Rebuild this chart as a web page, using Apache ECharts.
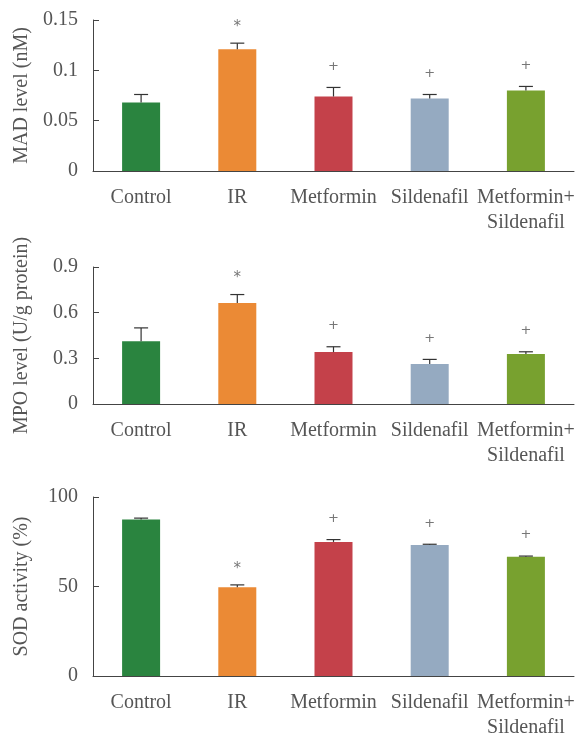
<!DOCTYPE html>
<html>
<head>
<meta charset="utf-8">
<script src="https://cdn.jsdelivr.net/npm/echarts@6/dist/echarts.min.js"></script>
<style>
  html, body { margin: 0; padding: 0; background: #fff; }
  #chart { width: 585px; height: 740px; }
</style>
</head>
<body>
<div id="chart"></div>
<script>
// Groups shown on every panel
const categories = ['Control', 'IR', 'Metformin', 'Sildenafil', 'Metformin+\nSildenafil'];
const groupColors = ['#2a843f', '#eb8a35', '#c4414a', '#95aac1', '#78a12f'];
// Significance marks above each group (* vs control, + vs IR)
const sigMarks = ['', '*', '+', '+', '+'];

// MAD level (nM): mean and SEM
const madMean = [0.068, 0.121, 0.074, 0.072, 0.080];
const madErr = [0.008, 0.006, 0.009, 0.004, 0.004];

// MPO level (U/g protein): mean and SEM
const mpoMean = [0.413, 0.664, 0.341, 0.262, 0.328];
const mpoErr = [0.087, 0.055, 0.035, 0.031, 0.015];

// SOD activity (%): mean and SEM
const sodMean = [87.5, 49.6, 74.9, 73.2, 66.6];
const sodErr = [0.7, 1.3, 1.3, 0.4, 0.4];

const FONT = 'Liberation Serif';
const TEXT = '#555';
const AXIS = '#444';

const panels = [
  { name: 'MAD level (nM)', mean: madMean, err: madErr, max: 0.15, interval: 0.05, top: 20, height: 151 },
  { name: 'MPO level (U/g protein)', mean: mpoMean, err: mpoErr, max: 0.9, interval: 0.3, top: 267, height: 137 },
  { name: 'SOD activity (%)', mean: sodMean, err: sodErr, max: 100, interval: 50, top: 497, height: 182 }
];

const grids = [], xAxes = [], yAxes = [], series = [];

panels.forEach((p, i) => {
  grids.push({ left: 93, right: 11, top: p.top, height: p.height });
  xAxes.push({
    type: 'category', gridIndex: i, data: categories,
    axisLine: { lineStyle: { color: AXIS, width: 1 } },
    axisTick: { inside: true, length: 5, lineStyle: { color: AXIS } },
    axisLabel: { color: TEXT, fontFamily: FONT, fontSize: 20, lineHeight: 25, margin: 14, interval: 0 }
  });
  yAxes.push({
    type: 'value', gridIndex: i, min: 0, max: p.max, interval: p.interval,
    name: p.name, nameLocation: 'middle', nameGap: 61,
    nameTextStyle: { color: TEXT, fontFamily: FONT, fontSize: 20 },
    axisLine: { show: true, lineStyle: { color: AXIS, width: 1 } },
    axisTick: { show: true, inside: true, length: 6, lineStyle: { color: AXIS } },
    splitLine: { show: false },
    axisLabel: { color: TEXT, fontFamily: FONT, fontSize: 20, margin: 15 }
  });
  series.push({
    type: 'bar', xAxisIndex: i, yAxisIndex: i, barWidth: 38,
    data: p.mean.map((v, k) => ({ value: v, itemStyle: { color: groupColors[k] } })),
    z: 2
  });
  // Upper error bar with cap, plus the significance mark above it
  series.push({
    type: 'custom', xAxisIndex: i, yAxisIndex: i, z: 3,
    data: p.mean.map((v, k) => [k, v, v + p.err[k], sigMarks[k]]),
    encode: { x: 0, y: [1, 2] },
    renderItem: function (params, api) {
      const base = api.coord([api.value(0), api.value(1)]);
      const top = api.coord([api.value(0), api.value(2)]);
      const x = base[0];
      const mark = sigMarks[params.dataIndex];
      const children = [
        { type: 'line', shape: { x1: x, y1: base[1], x2: x, y2: top[1] }, style: { stroke: '#333', lineWidth: 1.2 } },
        { type: 'line', shape: { x1: x - 7, y1: top[1], x2: x + 7, y2: top[1] }, style: { stroke: '#333', lineWidth: 1.2 } }
      ];
      if (mark) {
        children.push({
          type: 'text',
          style: {
            text: mark, x: x, y: top[1] - 21 + (mark === '*' ? 5 : 0),
            align: 'center', verticalAlign: 'middle',
            fill: '#777', font: (mark === '*' ? '15px' : '13px') + ' "DejaVu Sans", sans-serif'
          }
        });
      }
      return { type: 'group', children: children };
    }
  });
});

const chart = echarts.init(document.getElementById('chart'), null, { renderer: 'canvas' });
chart.setOption({
  animation: false,
  backgroundColor: '#fff',
  grid: grids,
  xAxis: xAxes,
  yAxis: yAxes,
  series: series
});
</script>
</body>
</html>
